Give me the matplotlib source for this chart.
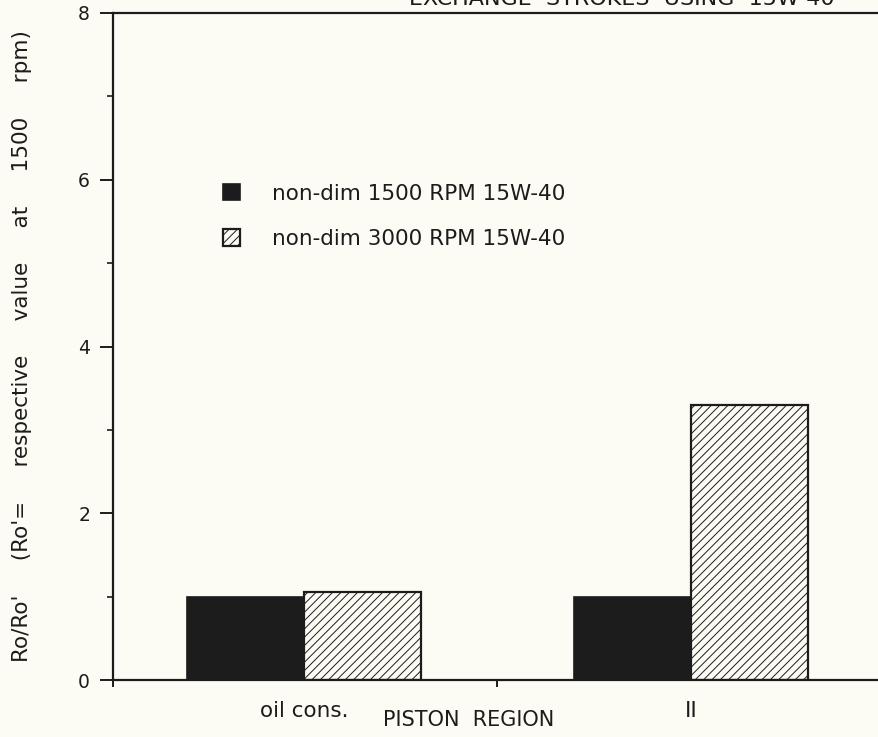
import matplotlib.pyplot as plt
import numpy as np

plt.rcParams["font.family"] = ["DejaVu Sans"]
plt.rcParams["hatch.linewidth"] = 0.7

# data
regions = ["oil cons.", "II"]
rpm1500 = [1.0, 1.0]
rpm3000 = [1.05, 3.3]
series_names = ["non-dim 1500 RPM 15W-40", "non-dim 3000 RPM 15W-40"]
yticks = [0, 2, 4, 6, 8]
yminor = [1, 3, 5, 7]

BG = "#fcfcf4"
INK = "#1c1c1c"

W, H = 879, 737
fig = plt.figure(figsize=(W / 100, H / 100), dpi=100, facecolor=BG)
# axes runs a little past the right edge, as in the scan
ax = fig.add_axes([113 / W, 1 - 680 / H, 771.5 / W, (680 - 13) / H])
ax.set_facecolor(BG)

x = np.arange(len(regions))
w = 0.303
ax.bar(x - w / 2, rpm1500, w, color=INK, edgecolor=INK, linewidth=1.2,
       label=series_names[0])
ax.bar(x + w / 2, rpm3000, w, color=BG, edgecolor=INK, linewidth=1.6,
       hatch="////", label=series_names[1])

ax.set_xlim(-0.4935, 1.5)
ax.set_ylim(0, 8)

# y axis
ax.set_yticks(yticks)
ax.set_yticks(yminor, minor=True)
ax.tick_params(axis="y", which="major", direction="out", length=9.5, width=1.4,
               labelsize=13.5, colors=INK, pad=7)
ax.tick_params(axis="y", which="minor", direction="out", length=4.5, width=1.2,
               colors=INK)

# x axis: boundary tick without label, category names on minor ticks
ax.set_xticks([-0.4935, 0.5, 1.5])
ax.set_xticklabels([])
ax.set_xticks(x, minor=True)
ax.set_xticklabels(regions, minor=True)
ax.tick_params(axis="x", which="major", direction="out", length=5, width=1.4,
               colors=INK)
ax.tick_params(axis="x", which="minor", length=0, labelsize=15.5, pad=15,
               colors=INK)

for sp in ax.spines.values():
    sp.set_linewidth(1.6)
    sp.set_color(INK)

ax.text(0.461, -0.060, "PISTON  REGION", transform=ax.transAxes, ha="center",
        va="center", fontsize=15, color=INK)

ax.set_ylabel("Ro/Ro'     (Ro'=     respective     value     at     1500     rpm)",
              fontsize=15.5, color=INK)
ax.yaxis.set_label_coords(-0.1047, 0.5)

leg = ax.legend(loc="upper left", bbox_to_anchor=(0.131, 0.757), frameon=False,
                fontsize=15.5, handlelength=0.8, handleheight=0.8,
                handletextpad=1.5, labelspacing=1.18, borderaxespad=0)
for t in leg.get_texts():
    t.set_color(INK)

fig.text(622 / W, 1 - 5 / H, "EXCHANGE  STROKES  USING  15W-40", ha="center",
         va="baseline", fontsize=16, color=INK)

fig.savefig("out.png", dpi=100, facecolor=BG)
